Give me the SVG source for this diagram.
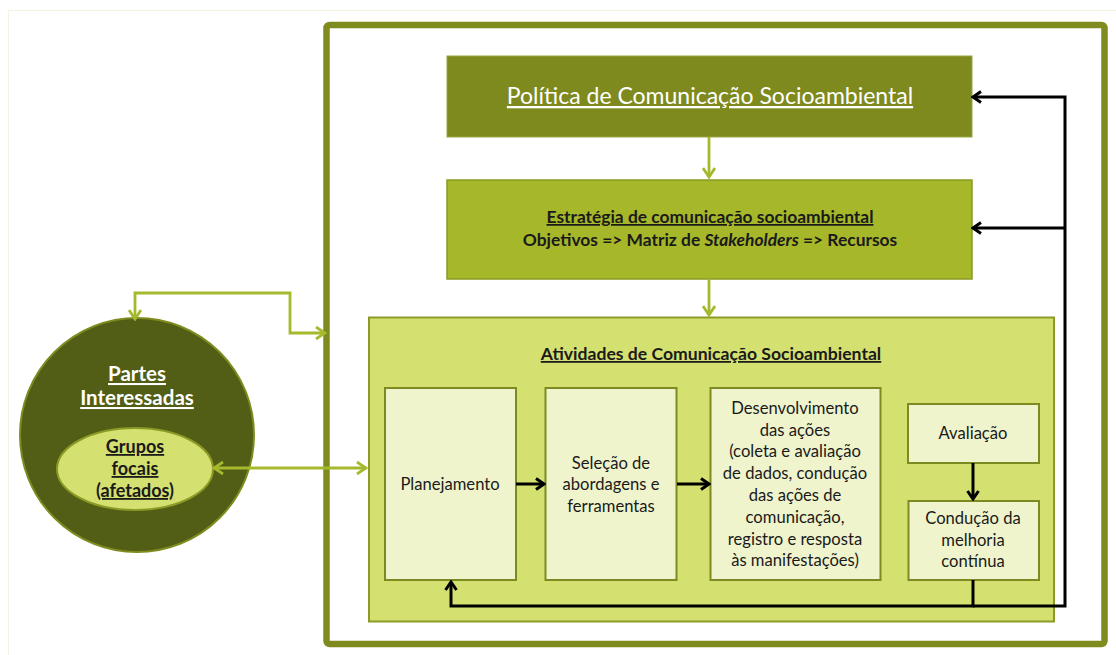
<svg xmlns="http://www.w3.org/2000/svg" width="1116" height="655" viewBox="0 0 1116 655">
<defs>
<style>
text{font-family:Lato,"Open Sans","Liberation Sans",sans-serif;text-anchor:middle}
.box{fill:#eff4cc;stroke:#7d8a22;stroke-width:2}
.g{fill:none;stroke:#a6b92c;stroke-width:2.8}
.k{fill:none;stroke:#000;stroke-width:3}
.t{font-size:16.6px;fill:#1a1a1a}
.u{text-decoration:underline}
</style>
<marker id="ga" viewBox="0 0 14 14" refX="12" refY="7" markerWidth="14" markerHeight="14" orient="auto-start-reverse" markerUnits="userSpaceOnUse">
<path d="M3,1 L12,7 L3,13" fill="none" stroke="#a6b92c" stroke-width="2.8"/>
</marker>
<marker id="ka" viewBox="0 0 14 14" refX="12" refY="7" markerWidth="14" markerHeight="14" orient="auto-start-reverse" markerUnits="userSpaceOnUse">
<path d="M4,1.5 L12,7 L4,12.5" fill="none" stroke="#000" stroke-width="3"/>
</marker>
</defs>
<rect x="0" y="0" width="1116" height="655" fill="#fff"/>
<rect x="8.5" y="10.5" width="1120" height="660" fill="none" stroke="#f1f4de" stroke-width="1"/>
<g id="frame">
<rect x="326.5" y="25" width="778" height="619" rx="3" fill="#fff" stroke="#7f8b1f" stroke-width="6.5"/>
</g>
<g id="politica">
<rect x="447" y="56" width="525" height="81" fill="#7e8a1e" stroke="#9aa640" stroke-width="1"/>
<text x="710" y="104" font-size="23" fill="#fff" class="u">Política de Comunicação Socioambiental </text>
</g>
<g id="estrategia">
<rect x="447" y="180" width="525" height="99" fill="#a7b72a" stroke="#8a9a25" stroke-width="1.5"/>
<text x="710" y="223" font-size="17.4" font-weight="bold" fill="#1a1a1a" class="u">Estratégia de comunicação socioambiental</text>
<text x="710" y="246" font-size="17.4" font-weight="bold" fill="#1a1a1a">Objetivos =&gt; Matriz de <tspan font-style="italic">Stakeholders</tspan> =&gt; Recursos</text>
</g>
<g id="atividades">
<rect x="369" y="317.5" width="685" height="304" fill="#d4e070" stroke="#8b9b26" stroke-width="2"/>
<text x="711" y="360" font-size="17.6" font-weight="bold" fill="#1a1a1a" class="u">Atividades de Comunicação Socioambiental</text>
</g>
<g id="planejamento">
<rect class="box" x="385" y="388" width="131" height="192"/>
<text class="t" x="450" y="490">Planejamento</text>
</g>
<g id="selecao">
<rect class="box" x="545.5" y="388" width="131" height="192"/>
<text class="t" x="611" y="469">Seleção de</text>
<text class="t" x="611" y="490">abordagens e</text>
<text class="t" x="611" y="512">ferramentas</text>
</g>
<g id="desenvolvimento">
<rect class="box" x="710.5" y="388" width="170" height="192"/>
<text class="t" x="795" y="414">Desenvolvimento</text>
<text class="t" x="795" y="436">das ações</text>
<text class="t" x="795" y="457">(coleta e avaliação</text>
<text class="t" x="795" y="479">de dados, condução</text>
<text class="t" x="795" y="501">das ações de</text>
<text class="t" x="795" y="523">comunicação,</text>
<text class="t" x="795" y="545">registro e resposta</text>
<text class="t" x="795" y="566">às manifestações)</text>
</g>
<g id="avaliacao">
<rect class="box" x="908" y="404" width="131" height="59"/>
<text class="t" x="973" y="439">Avaliação</text>
</g>
<g id="conducao">
<rect class="box" x="908.5" y="501" width="130.5" height="79"/>
<text class="t" x="973" y="524">Condução da</text>
<text class="t" x="973" y="546">melhoria</text>
<text class="t" x="973" y="567">contínua</text>
</g>
<g id="partes">
<circle cx="137" cy="435" r="117" fill="#525e16" stroke="#7f8b1f" stroke-width="2"/>
<text x="137" y="381" font-size="20.5" font-weight="bold" fill="#fff" class="u">Partes</text>
<text x="137" y="405" font-size="20.5" font-weight="bold" fill="#fff" class="u">Interessadas</text>
</g>
<g id="grupos">
<ellipse cx="135" cy="469" rx="78" ry="41" fill="#d4e070" stroke="#8b9b26" stroke-width="2"/>
<text x="135" y="453" font-size="18" font-weight="bold" fill="#1a1a1a" class="u">Grupos</text>
<text x="135" y="475" font-size="18" font-weight="bold" fill="#1a1a1a" class="u">focais</text>
<text x="135" y="497" font-size="18" font-weight="bold" fill="#1a1a1a" class="u">(afetados)</text>
</g>
<g id="connectors">
<path class="g" d="M709,137 V177" marker-end="url(#ga)"/>
<path class="g" d="M709,279 V315" marker-end="url(#ga)"/>
<path class="g" d="M214,468 H366" marker-start="url(#ga)" marker-end="url(#ga)"/>
<path class="g" d="M325,333 H290 V293 H135 V319" marker-start="url(#ga)" marker-end="url(#ga)"/>
<path class="k" d="M516,484 H544" marker-end="url(#ka)"/>
<path class="k" d="M677,484 H709" marker-end="url(#ka)"/>
<path class="k" d="M973,463 V499" marker-end="url(#ka)"/>
<path class="k" d="M973,580 V606 H451 V582" marker-end="url(#ka)"/>
<path class="k" d="M973,606 H1065 V97 H973" marker-end="url(#ka)"/>
<path class="k" d="M1065,228 H973" marker-end="url(#ka)"/>
</g>
</svg>
